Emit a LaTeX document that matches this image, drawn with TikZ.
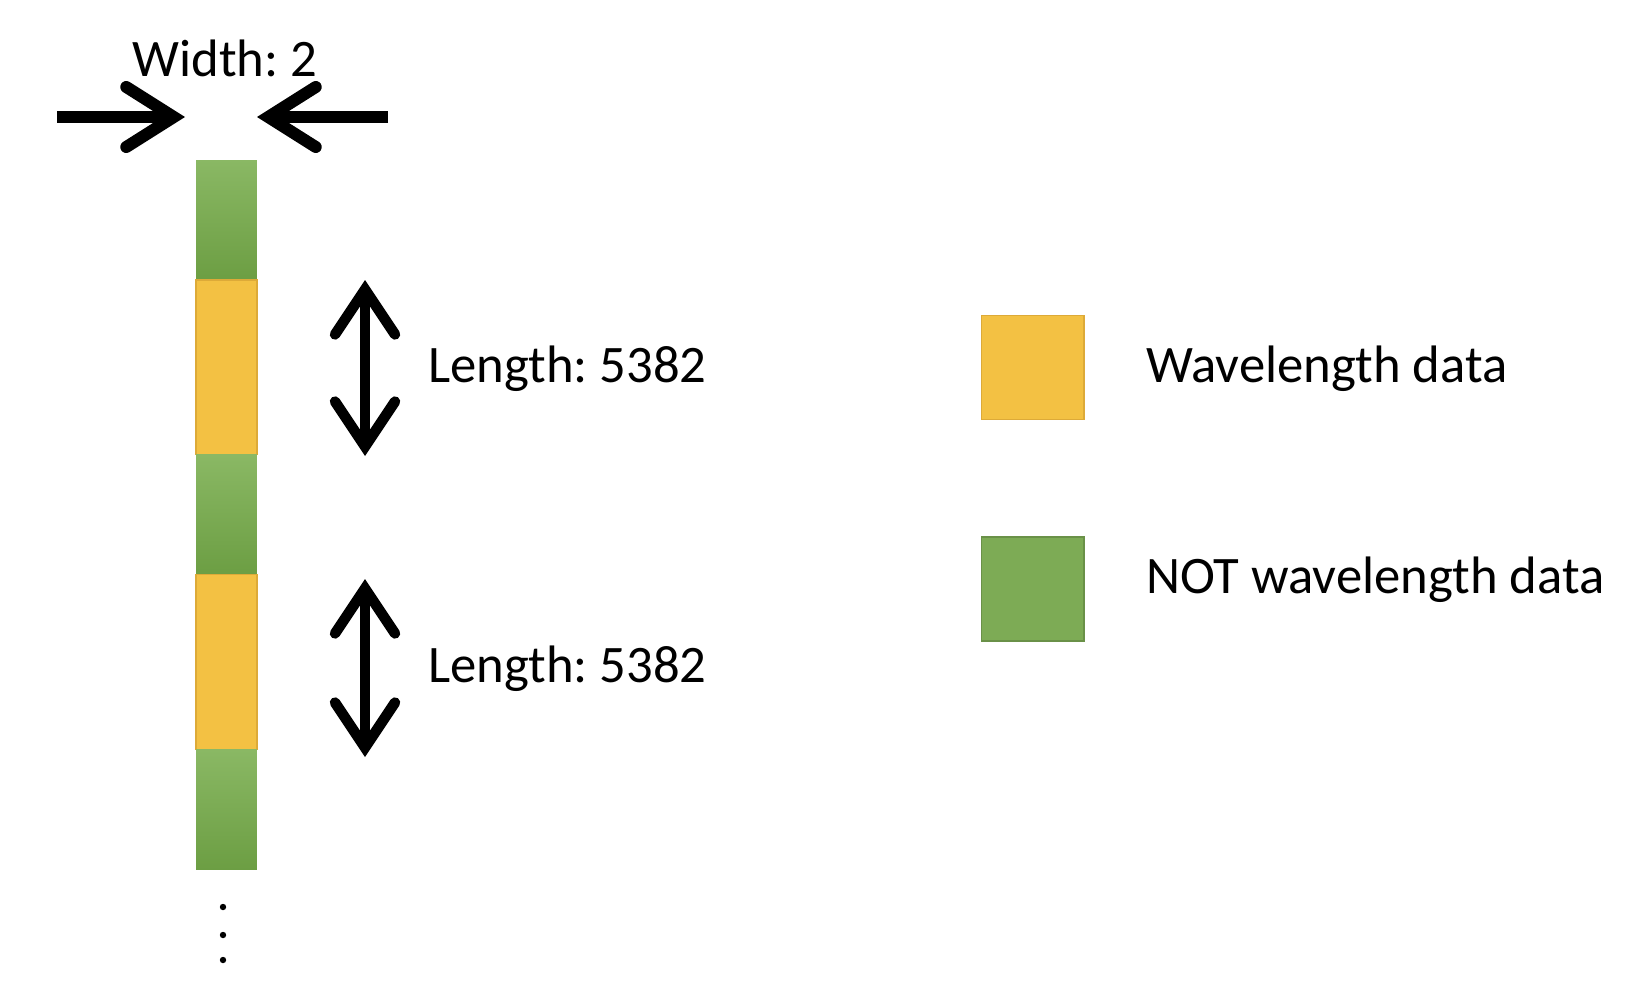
\documentclass[tikz,border=0pt]{standalone}
\usepackage{fontspec}
\setmainfont{Carlito}
\usepackage{tikz}
\usetikzlibrary{arrows.meta,positioning}
\definecolor{wlgold}{HTML}{F3C143}
\definecolor{wledge}{HTML}{DDAA38}
\definecolor{nwgreen}{HTML}{7DAB55}
\definecolor{nwtop}{HTML}{8AB864}
\definecolor{nwbot}{HTML}{6C9E43}
\frenchspacing

\begin{document}
\begin{tikzpicture}[
  x=0.02cm, y=-0.02cm,
  font=\fontsize{30}{36}\selectfont,
  seg/.style={inner sep=0pt, outer sep=0pt, minimum width=1.22cm},
  wl/.style={seg, fill=wlgold, draw=wledge, line width=0.6pt, minimum height=3.5cm},
  nw/.style={seg, top color=nwtop, bottom color=nwbot, minimum height=2.4cm},
  key/.style={inner sep=0pt, minimum width=2.06cm, minimum height=2.08cm},
  lbl/.style={anchor=west, inner sep=0pt},
  hbarb/.tip={Straight Barb[line cap=round, line join=miter, length=0.95cm, width=1.2cm]},
  vbarb/.tip={Straight Barb[line cap=round, line join=miter, length=0.9cm, width=1.2cm]},
  thick arr/.style={line width=0.24cm, -hbarb},
  both arr/.style={line width=0.21cm, vbarb-vbarb}]
\useasboundingbox (0,0) rectangle (1638,1004);
% column of blocks
\node[nw] (g1) at (226.5,220) {};
\node[wl, below=0pt of g1] (y1) {};
\node[nw, below=0pt of y1] (g2) {};
\node[wl, below=0pt of g2] (y2) {};
\node[nw, below=0pt of y2] (g3) {};
\foreach \yy in {907,935,960}
  \fill (223,\yy) circle (3.2);
% width marker
\node (wd) at (225,58) {Width: 2};
\coordinate (wl0) at (57,117);
\coordinate (wl1) at (185,117);
\coordinate (wr0) at (388,117);
\coordinate (wr1) at (257,117);
\draw[thick arr] (wl0) -- (wl1);
\draw[thick arr] (wr0) -- (wr1);
% lengths
\coordinate (l1a) at (365,280);
\coordinate (l1b) at (365,456);
\coordinate (l2a) at (365,579);
\coordinate (l2b) at (365,757);
\draw[both arr] (l1a) -- (l1b);
\draw[both arr] (l2a) -- (l2b);
\node[lbl] (len1) at (428,369) {Length: 5382};
\node[lbl] (len2) at (428,669) {Length: 5382};
% legend
\node[key, fill=wlgold, draw=wledge, line width=0.6pt] (kwl) at (1032.5,367.5) {};
\node[key, fill=nwgreen, draw=nwgreen!85!black, line width=0.6pt] (knw) at (1032.5,589) {};
\node[lbl] (twl) at (1146,369) {Wavelength data};
\node[lbl] (tnw) at (1146,580) {NOT wavelength data};
\end{tikzpicture}
\end{document}
